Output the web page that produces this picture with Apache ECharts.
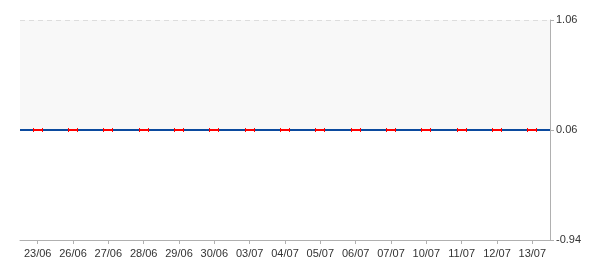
<!DOCTYPE html>
<html><head><meta charset="utf-8">
<script src="https://cdn.jsdelivr.net/npm/echarts@6/dist/echarts.min.js"></script>
<style>html,body{margin:0;padding:0;background:#fff}#c{width:600px;height:270px}</style>
</head><body><div id="c"></div>
<script>
const categories = ['23/06','26/06','27/06','28/06','29/06','30/06','03/07','04/07','05/07','06/07','07/07','10/07','11/07','12/07','13/07'];
const values = [0.06,0.06,0.06,0.06,0.06,0.06,0.06,0.06,0.06,0.06,0.06,0.06,0.06,0.06,0.06];
const baseLevel = 0.06;
const upperLevel = 1.06;
const yMin = -0.94;
const yMax = 1.06;

const chart = echarts.init(document.getElementById('c'), null, {renderer:'canvas'});
chart.setOption({
  animation:false,
  textStyle:{fontFamily:'Liberation Sans, Arial, sans-serif'},
  grid:{left:20,right:50,top:20,bottom:30},
  xAxis:{
    type:'category', data:categories, boundaryGap:true,
    axisLine:{onZero:false,lineStyle:{color:'#b0b0b0',width:1}},
    axisTick:{show:true,interval:0,alignWithLabel:true,length:4,lineStyle:{color:'#b0b0b0'}},
    axisLabel:{color:'#333',fontSize:11,margin:8,interval:0}
  },
  yAxis:{
    type:'value', position:'right', min:yMin, max:yMax, interval:1,
    axisLine:{show:true,lineStyle:{color:'#b0b0b0'}},
    axisTick:{show:true,length:4,lineStyle:{color:'#b0b0b0'}},
    axisLabel:{color:'#333',fontSize:11,margin:6,formatter:v=>v.toFixed(2)},
    splitLine:{show:false}
  },
  series:[
    {
      type:'line', data:values, symbol:'none', lineStyle:{opacity:0}, silent:true,
      markArea:{silent:true,itemStyle:{color:'#f8f8f8'},data:[[{yAxis:baseLevel},{yAxis:upperLevel}]]},
      z:1
    },
    {
      type:'line', data:values, symbol:'none', lineStyle:{opacity:0}, silent:true,
      markLine:{silent:true,symbol:'none',label:{show:false},data:[
        {yAxis:baseLevel,lineStyle:{color:'#0b4a9e',width:2,type:'solid'}},
        {yAxis:upperLevel,lineStyle:{color:'#dddddd',width:1,type:[5,4]}}
      ]},
      z:2
    },
    {
      type:'custom', z:5,
      data:values.map((v,i)=>[i,v]),
      renderItem:function(params,api){
        const p = api.coord([api.value(0),api.value(1)]);
        const x = Math.round(p[0]), y = Math.round(p[1]);
        return {type:'group',children:[
          {type:'line',shape:{x1:x-4,y1:y,x2:x+4,y2:y},style:{stroke:'#ff0000',lineWidth:2}},
          {type:'line',shape:{x1:x-4.5,y1:y-2,x2:x-4.5,y2:y+2},style:{stroke:'#ff0000',lineWidth:1}},
          {type:'line',shape:{x1:x+4.5,y1:y-2,x2:x+4.5,y2:y+2},style:{stroke:'#ff0000',lineWidth:1}}
        ]};
      }
    }
  ]
});
</script></body></html>
